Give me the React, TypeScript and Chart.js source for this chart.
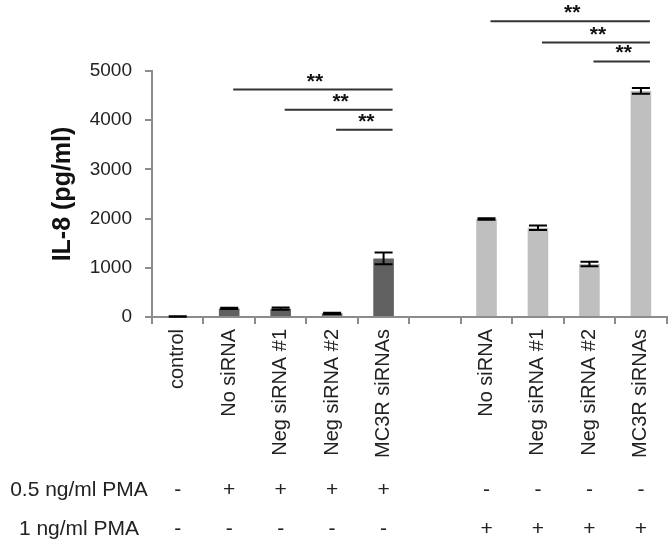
import React, { useEffect, useRef } from 'react';
import { Chart, registerables } from 'chart.js';
Chart.register(...registerables);

const categories = ['control', 'No siRNA', 'Neg siRNA #1', 'Neg siRNA #2', 'MC3R siRNAs', '', 'No siRNA', 'Neg siRNA #1', 'Neg siRNA #2', 'MC3R siRNAs'];
const il8Values = [10, 175, 170, 75, 1190, null, 1992, 1814, 1078, 4596];
const il8Errors = [5, 12, 25, 12, 120, null, 15, 45, 45, 60];
const barGroup = ['dark', 'dark', 'dark', 'dark', 'dark', '', 'light', 'light', 'light', 'light'];
const pma05Row = ['-', '+', '+', '+', '+', '', '-', '-', '-', '-'];
const pma1Row = ['-', '-', '-', '-', '-', '', '+', '+', '+', '+'];
const rowLabels = ['0.5 ng/ml PMA', '1 ng/ml PMA'];
const sigFrom = [1, 2, 3, 6, 7, 8];
const sigTo = [4, 4, 4, 9, 9, 9];
const sigLevel = [4622, 4213, 3804, 6012, 5577, 5194];
const sigLabel = ['**', '**', '**', '**', '**', '**'];

const FONT = '"Liberation Sans", Arial, sans-serif';
const AXIS = '#8c8c8c';
const TEXT = '#222222';

const overlay = {
  id: 'overlay',
  afterDatasetsDraw(chart: any) {
    const ctx = chart.ctx;
    const x = chart.scales.x;
    const y = chart.scales.y;
    const meta = chart.getDatasetMeta(0);
    ctx.save();
    // error bars
    ctx.strokeStyle = '#000';
    ctx.lineWidth = 2;
    meta.data.forEach((bar: any, i: number) => {
      const v = il8Values[i];
      const e = il8Errors[i];
      if (v == null || e == null) return;
      const cx = bar.x;
      const yt = y.getPixelForValue(v + e);
      const yb = y.getPixelForValue(Math.max(0, v - e));
      const half = 9;
      ctx.beginPath();
      ctx.moveTo(cx, yt);
      ctx.lineTo(cx, yb);
      ctx.moveTo(cx - half, yt);
      ctx.lineTo(cx + half, yt);
      ctx.moveTo(cx - half, yb);
      ctx.lineTo(cx + half, yb);
      ctx.stroke();
    });
    // significance lines
    ctx.strokeStyle = '#333';
    ctx.lineWidth = 2;
    ctx.fillStyle = '#111';
    ctx.font = `bold 21px ${FONT}`;
    ctx.textAlign = 'center';
    ctx.textBaseline = 'alphabetic';
    sigFrom.forEach((f, k) => {
      const x0 = x.getPixelForValue(f) + 4;
      const x1 = x.getPixelForValue(sigTo[k]) + 9;
      const yy = y.getPixelForValue(sigLevel[k]);
      ctx.beginPath();
      ctx.moveTo(x0, yy);
      ctx.lineTo(x1, yy);
      ctx.stroke();
      ctx.fillText(sigLabel[k], (x0 + x1) / 2 + 2, yy - 2);
    });
    // bottom rows
    ctx.fillStyle = TEXT;
    ctx.font = `21px ${FONT}`;
    ctx.textBaseline = 'middle';
    const rowY = [490, 529];
    [pma05Row, pma1Row].forEach((row, r) => {
      ctx.textAlign = 'center';
      ctx.fillText(rowLabels[r], 79, rowY[r]);
      row.forEach((s, i) => {
        if (!s) return;
        ctx.fillText(s, x.getPixelForValue(i), rowY[r]);
      });
    });
    ctx.restore();
  },
};

export default function App() {
  const ref = useRef<HTMLCanvasElement>(null);
  useEffect(() => {
    if (!ref.current) return;
    const chart = new Chart(ref.current, {
      type: 'bar',
      data: {
        labels: categories,
        datasets: [
          {
            data: il8Values as any,
            backgroundColor: barGroup.map((g) => (g === 'dark' ? '#606060' : '#bfbfbf')),
            borderWidth: 0,
            barPercentage: 0.4,
            categoryPercentage: 1,
          },
        ],
      },
      options: {
        responsive: false,
        animation: false,
        layout: { padding: { top: 71, right: 2, left: 0, bottom: 0 } },
        plugins: { legend: { display: false }, tooltip: { enabled: false }, title: { display: false } },
        scales: {
          x: {
            afterFit: (s: any) => { s.height = 229; },
            grid: { offset: true, drawOnChartArea: false, drawTicks: true, tickLength: 7, color: AXIS, lineWidth: 2 },
            border: { display: true, color: AXIS, width: 2 },
            ticks: {
              autoSkip: false,
              minRotation: 90,
              maxRotation: 90,
              padding: 5,
              color: TEXT,
              font: { family: FONT, size: 20 },
            },
          },
          y: {
            min: 0,
            max: 5000,
            afterFit: (s: any) => { s.width = 152; },
            grid: { drawOnChartArea: false, drawTicks: true, tickLength: 7, color: AXIS, lineWidth: 2 },
            border: { display: true, color: AXIS, width: 2 },
            ticks: {
              stepSize: 1000,
              padding: 13,
              color: TEXT,
              font: { family: FONT, size: 19 },
              callback: (v: any) => String(v),
            },
            title: {
              display: true,
              text: 'IL-8 (pg/ml)',
              color: '#111',
              font: { family: FONT, size: 25, weight: 'bold' },
              padding: { top: 48, bottom: 0 },
            },
          },
        },
      },
      plugins: [overlay],
    });
    return () => chart.destroy();
  }, []);
  return (
    <div style={{ position: 'absolute', left: 0, top: 0, width: 670, height: 546, background: '#fff' }}>
      <canvas ref={ref} width={670} height={546} />
    </div>
  );
}
